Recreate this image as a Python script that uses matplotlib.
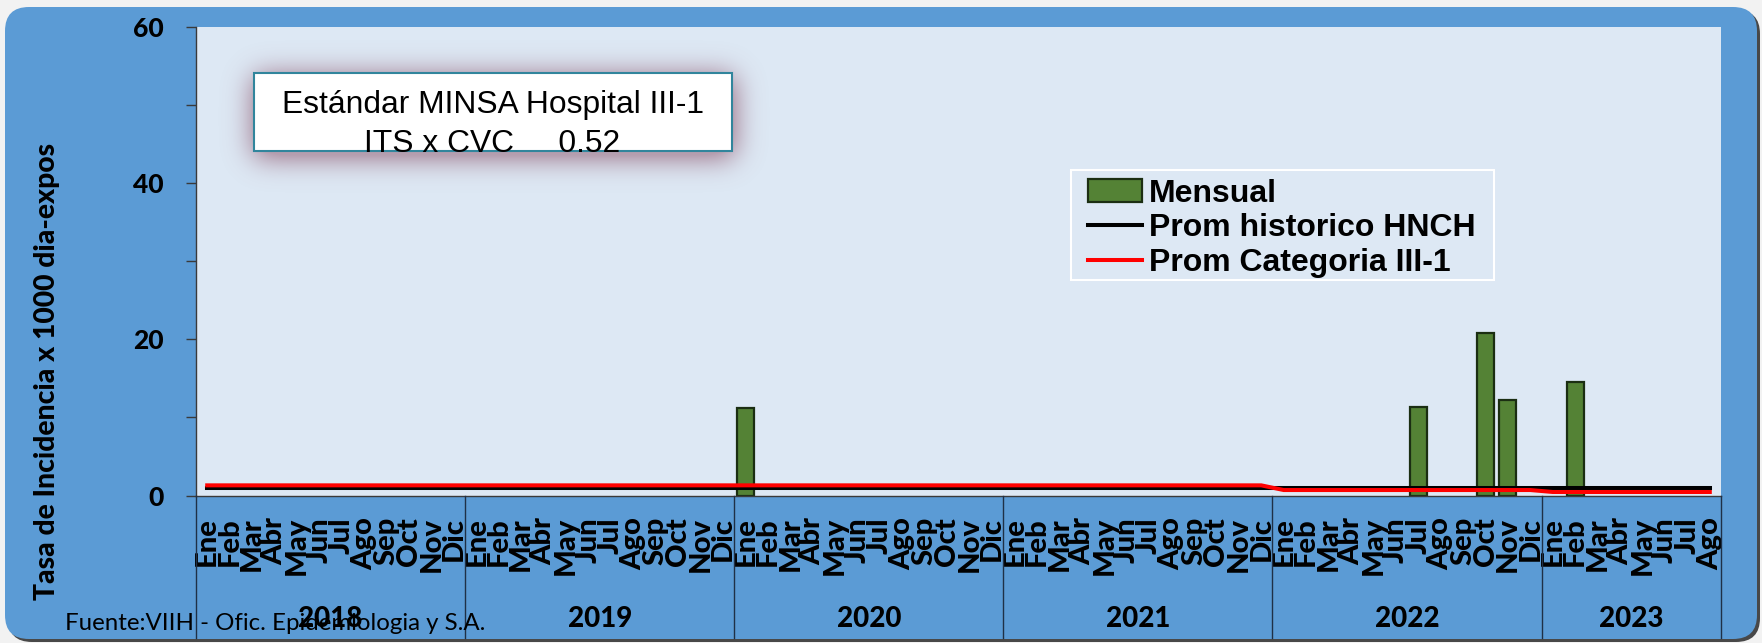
import numpy as np
import matplotlib
matplotlib.use('Agg')
import matplotlib.pyplot as plt
from matplotlib.patches import FancyBboxPatch, Rectangle
from matplotlib.transforms import blended_transform_factory

W, H = 1762, 643
DPI = 100

# ---------------- data ----------------
years = ['2018', '2019', '2020', '2021', '2022', '2023']
month_names = ['Ene', 'Feb', 'Mar', 'Abr', 'May', 'Jun',
               'Jul', 'Ago', 'Sep', 'Oct', 'Nov', 'Dic']
months_per_year = [12, 12, 12, 12, 12, 8]

mensual = [
    0, 0, 0, 0, 0, 0, 0, 0, 0, 0, 0, 0,            # 2018
    0, 0, 0, 0, 0, 0, 0, 0, 0, 0, 0, 0,            # 2019
    11.2, 0, 0, 0, 0, 0, 0, 0, 0, 0, 0, 0,         # 2020
    0, 0, 0, 0, 0, 0, 0, 0, 0, 0, 0, 0,            # 2021
    0, 0, 0, 0, 0, 0, 11.3, 0, 0, 20.8, 12.2, 0,   # 2022
    0, 14.5, 0, 0, 0, 0, 0, 0,                     # 2023
]
prom_historico = [
    1.0, 1.0, 1.0, 1.0, 1.0, 1.0, 1.0, 1.0, 1.0, 1.0, 1.0, 1.0,
    1.0, 1.0, 1.0, 1.0, 1.0, 1.0, 1.0, 1.0, 1.0, 1.0, 1.0, 1.0,
    1.0, 1.0, 1.0, 1.0, 1.0, 1.0, 1.0, 1.0, 1.0, 1.0, 1.0, 1.0,
    1.0, 1.0, 1.0, 1.0, 1.0, 1.0, 1.0, 1.0, 1.0, 1.0, 1.0, 1.0,
    1.0, 1.0, 1.0, 1.0, 1.0, 1.0, 1.0, 1.0, 1.0, 1.0, 1.0, 1.0,
    1.0, 1.0, 1.0, 1.0, 1.0, 1.0, 1.0, 1.0,
]
prom_categoria = [
    1.3, 1.3, 1.3, 1.3, 1.3, 1.3, 1.3, 1.3, 1.3, 1.3, 1.3, 1.3,
    1.3, 1.3, 1.3, 1.3, 1.3, 1.3, 1.3, 1.3, 1.3, 1.3, 1.3, 1.3,
    1.3, 1.3, 1.3, 1.3, 1.3, 1.3, 1.3, 1.3, 1.3, 1.3, 1.3, 1.3,
    1.3, 1.3, 1.3, 1.3, 1.3, 1.3, 1.3, 1.3, 1.3, 1.3, 1.3, 1.3,
    0.7, 0.7, 0.7, 0.7, 0.7, 0.7, 0.7, 0.7, 0.7, 0.7, 0.7, 0.7,
    0.45, 0.45, 0.45, 0.45, 0.45, 0.45, 0.45, 0.45,
]
y_ticks = [0, 10, 20, 30, 40, 50, 60]
y_tick_labels = ['0', '', '20', '', '40', '', '60']
series_labels = ['Mensual', 'Prom historico HNCH', 'Prom Categoria III-1']
y_label = 'Tasa de Incidencia x 1000 dia-expos'
standard_lines = ['Estándar MINSA Hospital III-1', 'ITS x CVC     0.52']
source_text = 'Fuente:VIIH - Ofic. Epidemiologia y S.A.'

# ---------------- figure ----------------
CAL = ['Lato', 'DejaVu Sans']
ARI = ['Liberation Sans', 'DejaVu Sans']
BLUE = '#5b9bd5'
PLOT_BG = '#dde8f4'
HEAVY = 900

fig = plt.figure(figsize=(W / DPI, H / DPI), dpi=DPI, facecolor='#f2f2f2')

# background frame
bg = fig.add_axes([0, 0, 1, 1], zorder=0)
bg.set_xlim(0, W)
bg.set_ylim(H, 0)
bg.axis('off')
bg.add_patch(FancyBboxPatch((8, 10), 1752, 632, boxstyle='round,pad=0,rounding_size=24',
                            facecolor='#2a2a2a', edgecolor='none', alpha=0.85))
bg.add_patch(FancyBboxPatch((5, 7), 1752, 632, boxstyle='round,pad=0,rounding_size=24',
                            facecolor=BLUE, edgecolor='none'))

# main axes
px_left, px_right, px_top, px_bottom = 196, 1721, 27, 495.5
ax = fig.add_axes([px_left / W, (H - px_bottom) / H,
                   (px_right - px_left) / W, (px_bottom - px_top) / H], zorder=1)
ax.set_facecolor(PLOT_BG)

n = len(mensual)
x = np.arange(n)
vals = np.array(mensual, dtype=float)
nz = vals > 0
bars = ax.bar(x[nz], vals[nz], width=0.76, color='#548235', edgecolor='#1b2e12',
              linewidth=1.6, label=series_labels[0], zorder=2)
l1, = ax.plot(x, prom_historico, color='black', lw=2.9, label=series_labels[1], zorder=3)
l2, = ax.plot(x, prom_categoria, color='#ff0000', lw=2.9, label=series_labels[2], zorder=4)

ax.set_xlim(-0.5, n - 0.5)
ax.set_ylim(0, 60)
for s in ['top', 'right']:
    ax.spines[s].set_visible(False)
for s in ['left', 'bottom']:
    ax.spines[s].set_color('#3a3a3a')
    ax.spines[s].set_linewidth(1.0)

ax.set_yticks(y_ticks)
ax.set_yticklabels(y_tick_labels)
ax.tick_params(axis='y', direction='out', length=7, width=1, color='#3a3a3a', pad=16.5)
for lab in ax.get_yticklabels():
    lab.set_fontfamily(CAL)
    lab.set_fontweight(HEAVY)
    lab.set_fontsize(19)

month_labels = []
for ny in months_per_year:
    month_labels += month_names[:ny]
ax.set_xticks(x)
ax.set_xticklabels(month_labels, rotation=90)
ax.tick_params(axis='x', length=0, pad=15.5)
for lab in ax.get_xticklabels():
    lab.set_fontfamily(CAL)
    lab.set_fontweight(HEAVY)
    lab.set_fontsize(21)

# year groups
trans = blended_transform_factory(ax.transData, ax.transAxes)
ax_h = px_bottom - px_top
start = 0
bounds = [-0.5]
for yr, ny in zip(years, months_per_year):
    center = start + (ny - 1) / 2
    ax.text(center, (px_bottom - 619) / ax_h, yr, transform=trans, ha='center', va='center',
            fontsize=20, fontweight=HEAVY, family=CAL)
    start += ny
    bounds.append(start - 0.5)
for b in bounds:
    ax.plot([b, b], [0, (px_bottom - 638) / ax_h], transform=trans, color='#1f3046',
            lw=1.0, clip_on=False, zorder=5)

# legend
leg = ax.legend(handles=[bars, l1, l2], labels=series_labels,
                loc='upper left', bbox_to_anchor=(1088 / W, 1 - 178.5 / H),
                bbox_transform=fig.transFigure, borderaxespad=0, borderpad=0,
                frameon=False, handlelength=1.7, handletextpad=0.2, labelspacing=0.15,
                prop={'family': ARI, 'weight': 'bold', 'size': 23})

# overlay
ov = fig.add_axes([0, 0, 1, 1], zorder=3)
ov.set_xlim(0, W)
ov.set_ylim(H, 0)
ov.axis('off')
ov.patch.set_alpha(0)

# glow shadow around standard box
gx0, gx1, gy0, gy1 = 190, 800, 20, 215
gw, gh = gx1 - gx0, gy1 - gy0
mask = np.zeros((gh, gw))
mask[76 - gy0:157 - gy0, 254 - gx0:734 - gx0] = 1.0
sig = 14
k = np.arange(-3 * sig, 3 * sig + 1)
ker = np.exp(-0.5 * (k / sig) ** 2)
ker /= ker.sum()
blur = np.apply_along_axis(lambda r: np.convolve(r, ker, mode='same'), 1, mask)
blur = np.apply_along_axis(lambda c: np.convolve(c, ker, mode='same'), 0, blur)
img = np.zeros((gh, gw, 4))
img[..., 0] = 0.55
img[..., 1] = 0.33
img[..., 2] = 0.42
img[..., 3] = np.clip(0.9 * blur, 0, 0.5)
ov.imshow(img, extent=(gx0, gx1, gy1, gy0), aspect='auto', interpolation='bilinear', zorder=1)
ov.set_xlim(0, W)
ov.set_ylim(H, 0)

ov.add_patch(Rectangle((254, 73), 478, 78, facecolor='white', edgecolor='#31859c',
                       lw=1.5, zorder=2))
ov.text(492.5, 113, standard_lines[0], ha='center', va='baseline', fontsize=22.9,
        family=ARI, zorder=3)
ov.text(492, 151.5, standard_lines[1], ha='center', va='baseline', fontsize=22.9,
        family=ARI, zorder=3)

# legend frame
ov.add_patch(Rectangle((1071, 170), 423, 110, facecolor='none', edgecolor='white',
                       lw=1.5, zorder=2))

ov.text(47, 371, y_label, rotation=90, ha='center', va='center', fontsize=20.4,
        fontweight=HEAVY, family=CAL)
ov.text(65, 624, source_text, ha='left', va='center', fontsize=17.3, family=CAL)

fig.savefig('out.png', dpi=DPI, facecolor=fig.get_facecolor())
